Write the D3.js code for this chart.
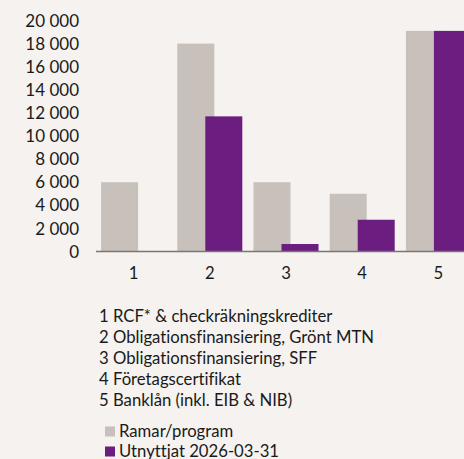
<!DOCTYPE html>
<html>
<head>
<meta charset="utf-8">
<script src="https://cdn.jsdelivr.net/npm/d3@7"></script>
<style>
  html, body { margin: 0; padding: 0; background: #f5f2ef; overflow: hidden; }
  svg text { font-family: Lato, "Open Sans", sans-serif; fill: #1a1a1a; font-variant-ligatures: none; }
</style>
</head>
<body>
<div id="chart"></div>
<script>
// data
const categories = ["1", "2", "3", "4", "5"];
const ramar = [6000, 18000, 6000, 5000, 19100];
const utnyttjat = [0, 11700, 650, 2750, 19100];
const yTicks = [0, 2000, 4000, 6000, 8000, 10000, 12000, 14000, 16000, 18000, 20000];
const notes = [
  "1 RCF* & checkräkningskrediter",
  "2 Obligationsfinansiering, Grönt MTN",
  "3 Obligationsfinansiering, SFF",
  "4 Företagscertifikat",
  "5 Banklån (inkl. EIB & NIB)"
];
const seriesNames = ["Ramar/program", "Utnyttjat 2026-03-31"];
const colors = ["#c8c0ba", "#6b1d80"];

const width = 464, height = 459;

const svg = d3.select("#chart").append("svg")
  .attr("width", width)
  .attr("height", height);

// scales
const x = d3.scaleBand()
  .domain(categories)
  .range([95.5, 476.5])
  .paddingInner(0)
  .paddingOuter(0);

const y = d3.scaleLinear()
  .domain([0, 20000])
  .range([251.5, 20.5]);

const barW = 37, offset = 28;
const groupW = barW + offset;

// gray bars first, purple overlaps
svg.selectAll(".ramar")
  .data(ramar)
  .enter().append("rect")
  .attr("x", (d, i) => x(categories[i]) + (x.bandwidth() - groupW) / 2)
  .attr("y", d => y(d))
  .attr("width", barW)
  .attr("height", d => y(0) - y(d))
  .attr("fill", colors[0]);

svg.selectAll(".utn")
  .data(utnyttjat)
  .enter().append("rect")
  .attr("x", (d, i) => x(categories[i]) + (x.bandwidth() - groupW) / 2 + offset)
  .attr("y", d => y(d))
  .attr("width", barW)
  .attr("height", d => y(0) - y(d))
  .attr("fill", colors[1]);

// baseline
svg.append("line")
  .attr("x1", 96).attr("x2", width)
  .attr("y1", y(0)).attr("y2", y(0))
  .attr("stroke", "#7a7674")
  .attr("stroke-width", 1.5);

// y tick labels
svg.selectAll(".ytick")
  .data(yTicks)
  .enter().append("text")
  .attr("x", 79)
  .attr("y", d => y(d))
  .attr("dy", "0.36em")
  .attr("text-anchor", "end")
  .style("font-size", "17px")
  .text(d => d3.format(",")(d).replace(/,/g, " "));

// category labels
svg.selectAll(".xtick")
  .data(categories)
  .enter().append("text")
  .attr("x", d => x(d) + x.bandwidth() / 2)
  .attr("y", 279)
  .attr("text-anchor", "middle")
  .style("font-size", "16.7px")
  .text(d => d);

// notes
svg.selectAll(".note")
  .data(notes)
  .enter().append("text")
  .attr("x", 99)
  .attr("y", (d, i) => 321.5 + i * 21)
  .style("font-size", "16.7px")
  .text(d => d);

// legend
const leg = svg.selectAll(".leg")
  .data(seriesNames)
  .enter().append("g")
  .attr("transform", (d, i) => `translate(105, ${426.5 + i * 20})`);

leg.append("rect")
  .attr("width", 10).attr("height", 10)
  .attr("fill", (d, i) => colors[i]);

leg.append("text")
  .attr("x", 14)
  .attr("y", 10)
  .style("font-size", "16.7px")
  .text(d => d);
</script>
</body>
</html>
